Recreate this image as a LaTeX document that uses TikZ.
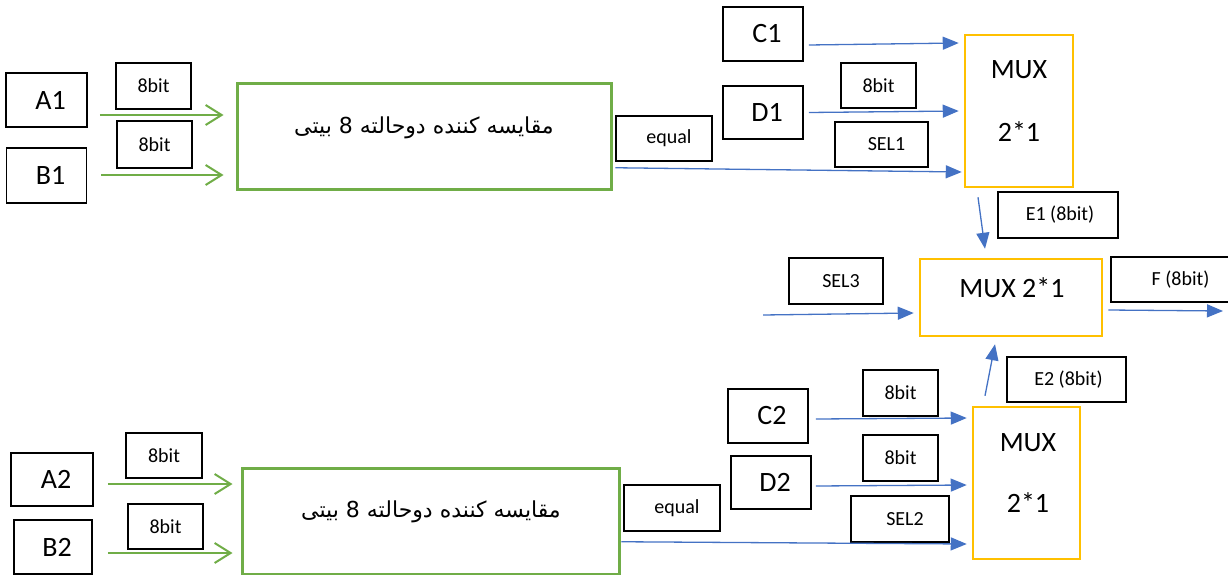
\documentclass[tikz,border=0pt]{standalone}
\usepackage{fontspec}
\setmainfont{Carlito}
\newfontfamily\arabicfont[Script=Arabic]{DejaVu Sans}
\TeXXeTstate=1
\usetikzlibrary{arrows.meta}
\definecolor{ogreen}{RGB}{112,173,71}
\definecolor{oyellow}{RGB}{255,192,0}
\definecolor{oblue}{RGB}{68,114,196}
\tikzset{
  big/.style={draw=black, line width=1.5pt, inner sep=0pt, font=\fontsize{28}{32}\selectfont, execute at begin node={\hspace*{8pt}}},
  tag/.style={draw=black, line width=1.5pt, inner sep=0pt, font=\fontsize{20}{24}\selectfont},
  tagr/.style={tag, execute at begin node={\hspace*{10pt}}},
  cmpbox/.style={draw=ogreen, line width=3pt, inner sep=0pt},
  muxbox/.style={draw=oyellow, line width=2.5pt, inner sep=0pt},
  muxtxt/.style={inner sep=0pt, font=\fontsize{28}{32}\selectfont},
  fatxt/.style={inner sep=0pt, font=\fontsize{22}{26}\arabicfont},
  garr/.style={draw=ogreen, line width=2pt, -{Straight Barb[length=16pt,width=20pt]}},
  barr/.style={draw=oblue, line width=1.3pt, -{Triangle[length=16pt,width=13pt]}},
}
\begin{document}
\begin{tikzpicture}[x=1pt,y=-1pt]
\useasboundingbox (0,0) rectangle (1228,575);
% top section
\node[big, minimum width=81, minimum height=54] (A1) at (46.5,100) {A1};
\node[big, minimum width=80, minimum height=55] (B1) at (46.5,175.5) {B1};
\node[tag, minimum width=75, minimum height=46] (bA1) at (153.5,86) {8bit};
\node[tag, minimum width=75, minimum height=47] (bB1) at (154.5,144.5) {8bit};
\node[cmpbox, minimum width=374, minimum height=105] (cmp1) at (424,136.5) {};
\node[fatxt] (cmp1t) at (424,128) {\beginR مقایسه کننده دوحالته 8 بیتی\endR};
\node[tagr, minimum width=96, minimum height=45] (eq1) at (664,138.5) {equal};
\node[big, minimum width=80, minimum height=54] (C1) at (763,34) {C1};
\node[big, minimum width=80, minimum height=53] (D1) at (763,112.5) {D1};
\node[tag, minimum width=75, minimum height=45] (bD1) at (878.5,85.5) {8bit};
\node[tagr, minimum width=93, minimum height=45] (sel1) at (881.5,144.5) {SEL1};
\node[muxbox, minimum width=108, minimum height=152] (mux1) at (1019,111) {};
\node[muxtxt] (mux1a) at (1019,70) {MUX};
\node[muxtxt] (mux1b) at (1019,132) {2*1};
\node[tag, minimum width=120, minimum height=46] (e1) at (1058,215) {\hspace*{4pt}E1 (8bit)};
% middle
\node[muxbox, minimum width=182, minimum height=77] (mux3) at (1011,297.5) {};
\node[muxtxt] (mux3t) at (1012,288) {MUX 2*1};
\node[tag, minimum width=139, minimum height=45] (f) at (1180.5,279.5) {F (8bit)};
\node[tagr, minimum width=94, minimum height=46] (sel3) at (836,281) {SEL3};
\node[tag, minimum width=119, minimum height=45] (e2) at (1066.5,379.5) {\hspace*{4pt}E2 (8bit)};
% bottom
\node[muxbox, minimum width=107, minimum height=152] (mux2) at (1026.5,483) {};
\node[muxtxt] (mux2a) at (1028,443) {MUX};
\node[muxtxt] (mux2b) at (1028,503) {2*1};
\node[big, minimum width=80, minimum height=54] (C2) at (768,416) {C2};
\node[big, minimum width=80, minimum height=53] (D2) at (771,482.5) {D2};
\node[tag, minimum width=75, minimum height=46] (bC2) at (900.5,393) {8bit};
\node[tag, minimum width=75, minimum height=46] (bD2) at (900.5,458) {8bit};
\node[tagr, minimum width=98, minimum height=46] (sel2) at (900,519) {SEL2};
\node[tagr, minimum width=96, minimum height=46] (eq2) at (672,508) {equal};
\node[cmpbox, minimum width=377, minimum height=106] (cmp2) at (430.5,521) {};
\node[fatxt] (cmp2t) at (431,512) {\beginR مقایسه کننده دوحالته 8 بیتی\endR};
\node[big, minimum width=82, minimum height=53] (A2) at (52,479.5) {A2};
\node[big, minimum width=78, minimum height=54] (B2) at (53,547) {B2};
\node[tag, minimum width=76, minimum height=45] (bA2) at (164,455.5) {8bit};
\node[tag, minimum width=75, minimum height=45] (bB2) at (165.5,526.5) {8bit};
% free ends
\coordinate (s3in) at (763,315);
\coordinate (fout) at (1223,311);
% green arrows
\draw[garr] ([shift={(12,15)}]A1.east) -- ([shift={(-12,-21.5)}]cmp1.west);
\draw[garr] ([shift={(14,-0.5)}]B1.east) -- ([shift={(-12,38.5)}]cmp1.west);
\draw[garr] ([shift={(14,4.5)}]A2.east) -- ([shift={(-8,-37)}]cmp2.west);
\draw[garr] ([shift={(15,6)}]B2.east) -- ([shift={(-8,32)}]cmp2.west);
% blue arrows
\draw[barr] ([shift={(5,11)}]C1.east) -- ([shift={(-5,-68)}]mux1.west);
\draw[barr] ([shift={(5,0)}]D1.east) -- ([shift={(-5,0)}]mux1.west);
\draw[barr] ([shift={(0,6)}]eq1.south west) -- ([shift={(-2,61)}]mux1.west);
\draw[barr] ([shift={(-41,9)}]mux1.south) -- ([shift={(-26,-9)}]mux3.north);
\draw[barr] (s3in) -- ([shift={(-5,15.5)}]mux3.west);
\draw[barr] ([shift={(5,12.5)}]mux3.east) -- (fout);
\draw[barr] ([shift={(-41.5,-10)}]mux2.north) -- ([shift={(-16,7)}]mux3.south);
\draw[barr] ([shift={(7,3)}]C2.east) -- ([shift={(-5,-65)}]mux2.west);
\draw[barr] ([shift={(4,3.5)}]D2.east) -- ([shift={(-5,2)}]mux2.west);
\draw[barr] ([shift={(-2,10)}]eq2.south west) -- ([shift={(-5,61)}]mux2.west);
\end{tikzpicture}
\end{document}
